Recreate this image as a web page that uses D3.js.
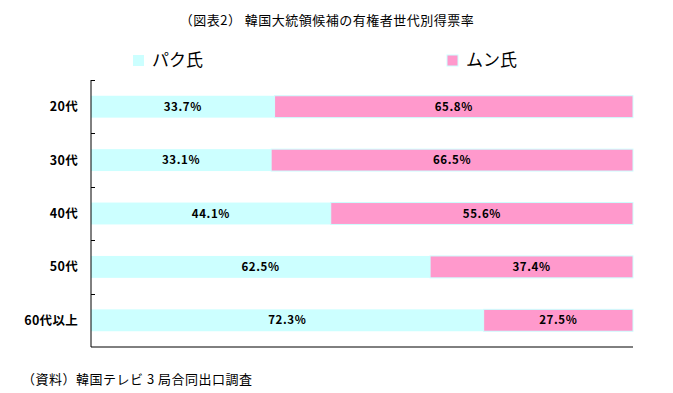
<!DOCTYPE html>
<html>
<head>
<meta charset="utf-8">
<script src="https://cdn.jsdelivr.net/npm/d3@7"></script>
<style>
  body { margin: 0; background: #fff; }
  text { font-family: "Noto Sans CJK JP", sans-serif; }
</style>
</head>
<body>
<div id="chart"></div>
<script>
var categories = ["20代", "30代", "40代", "50代", "60代以上"];
var seriesNames = ["パク氏", "ムン氏"];
var parkValues = [33.7, 33.1, 44.1, 62.5, 72.3];
var moonValues = [65.8, 66.5, 55.6, 37.4, 27.5];
var colors = ["#ccffff", "#ff99cc"];

var width = 673, height = 393;

// 100% stacked: each row normalised to its own total
var rows = categories.map(function (c, i) {
    return {cat: c, park: parkValues[i], moon: moonValues[i], total: parkValues[i] + moonValues[i]};
});

var x = d3.scaleLinear().domain([0, 1]).range([91, 633]);
var y = d3.scaleBand().domain(categories).range([80, 347]).paddingInner(0.59).paddingOuter(0.295);
var yTicks = d3.scaleBand().domain(categories).range([80, 347]);

var svg = d3.select("#chart").append("svg")
    .attr("width", width)
    .attr("height", height);

// title
svg.append("text")
    .attr("x", 327).attr("y", 25)
    .attr("text-anchor", "middle")
    .attr("font-size", 13)
    .attr("letter-spacing", 0.5)
    .text("（図表2） 韓国大統領候補の有権者世代別得票率");

// legend
var legendX = [133, 447];
seriesNames.forEach(function (name, i) {
    svg.append("rect")
        .attr("x", legendX[i]).attr("y", 55)
        .attr("width", 11).attr("height", 11)
        .attr("fill", colors[i])
        .attr("stroke", i === 1 ? "#ccffff" : "none");
    svg.append("text")
        .attr("x", legendX[i] + 19).attr("y", 66)
        .attr("font-size", 17)
        .text(name);
});

// bars
var g = svg.append("g");
rows.forEach(function (d) {
    var segs = [
        {v: d.park, x0: 0, x1: d.park / d.total, c: colors[0]},
        {v: d.moon, x0: d.park / d.total, x1: 1, c: colors[1]}
    ];
    segs.forEach(function (s, j) {
        g.append("rect")
            .attr("x", x(s.x0))
            .attr("y", y(d.cat))
            .attr("width", x(s.x1) - x(s.x0))
            .attr("height", y.bandwidth())
            .attr("fill", s.c)
            .attr("stroke", j === 1 ? "#ccffff" : "none")
            .attr("stroke-width", 1);
        g.append("text")
            .attr("x", (x(s.x0) + x(s.x1)) / 2)
            .attr("y", y(d.cat) + y.bandwidth() / 2)
            .attr("dy", "0.36em")
            .attr("text-anchor", "middle")
            .attr("font-size", 11.5)
            .attr("font-weight", "bold")
            .attr("letter-spacing", 0.6)
            .text(s.v.toFixed(1) + "%");
    });
});

// axes
var yAxis = svg.append("g").attr("transform", "translate(91,0)");
yAxis.append("line")
    .attr("x1", 0).attr("x2", 0).attr("y1", 80).attr("y2", 347)
    .attr("stroke", "#000");
yAxis.selectAll(".tk").data(categories).join("line")
    .attr("x1", 0).attr("x2", 4)
    .attr("y1", function (c) { return Math.round(yTicks(c)) + 0.5; })
    .attr("y2", function (c) { return Math.round(yTicks(c)) + 0.5; })
    .attr("stroke", "#000");
yAxis.selectAll(".lbl").data(categories).join("text")
    .attr("x", -13)
    .attr("y", function (c) { return yTicks(c) + yTicks.bandwidth() / 2; })
    .attr("dy", "0.36em")
    .attr("text-anchor", "end")
    .attr("font-size", 12.5)
    .attr("font-weight", "bold")
    .attr("letter-spacing", 0.3)
    .text(function (c) { return c; });

svg.append("line")
    .attr("x1", 91).attr("x2", 633).attr("y1", 347).attr("y2", 347)
    .attr("stroke", "#000");

// source note
svg.append("text")
    .attr("x", 22).attr("y", 384)
    .attr("font-size", 13)
    .attr("letter-spacing", 0.5)
    .text("（資料）韓国テレビ 3 局合同出口調査");
</script>
</body>
</html>
